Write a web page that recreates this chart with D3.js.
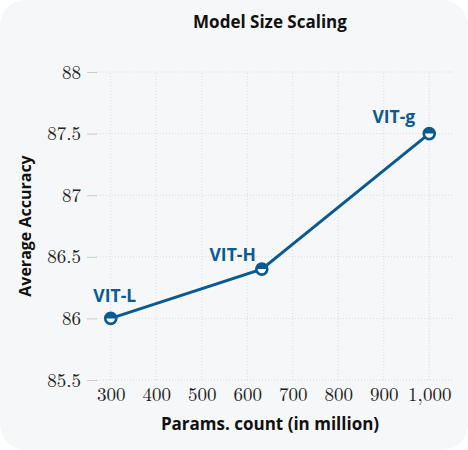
<!DOCTYPE html>
<html>
<head>
<meta charset="utf-8">
<script src="https://cdn.jsdelivr.net/npm/d3@7"></script>
<style>
  body { margin: 0; background: #ffffff; }
</style>
</head>
<body>
<div id="chart"></div>
<script>
const models = ["VIT-L", "VIT-H", "VIT-g"];
const params = [300, 632, 1000];
const accuracy = [86.0, 86.4, 87.5];
const xTicks = [300, 400, 500, 600, 700, 800, 900, 1000];
const yTicks = [85.5, 86, 86.5, 87, 87.5, 88];

const W = 468, H = 450;
const margin = { top: 72, right: 16, bottom: 70, left: 92 };
const blue = "#0b5a91";
const sans = "'Open Sans', sans-serif";
const serif = "'Latin Modern Roman', 'Liberation Serif', serif";

const svg = d3.select("#chart").append("svg")
  .attr("width", W)
  .attr("height", H);

svg.append("rect")
  .attr("x", 0).attr("y", 0)
  .attr("width", W).attr("height", H)
  .attr("rx", 26)
  .attr("fill", "#f6f7f9");

const x = d3.scaleLinear().domain([250, 1050]).range([margin.left - 4, W - margin.right]);
const y = d3.scaleLinear().domain([85.5, 88]).range([H - margin.bottom, margin.top]);

const g = svg.append("g");

// grid
g.selectAll(".vgrid").data(xTicks).enter().append("line")
  .attr("x1", d => x(d)).attr("x2", d => x(d))
  .attr("y1", y(85.5)).attr("y2", y(88))
  .attr("stroke", "#d4d6da").attr("stroke-width", 0.8)
  .attr("stroke-dasharray", "1,2");

g.selectAll(".hgrid").data(yTicks).enter().append("line")
  .attr("x1", margin.left + 5).attr("x2", W - margin.right)
  .attr("y1", d => y(d)).attr("y2", d => y(d))
  .attr("stroke", "#d4d6da").attr("stroke-width", 0.8)
  .attr("stroke-dasharray", "1,2");

// y axis
const yAxis = d3.axisLeft(y).tickValues(yTicks).tickSize(10).tickPadding(6)
  .tickFormat(d => d3.format("")(d));
const yg = g.append("g")
  .attr("transform", "translate(" + (margin.left + 5) + ",0)")
  .call(yAxis);
yg.select(".domain").remove();
yg.selectAll(".tick line").attr("stroke", "#c8cacd").attr("stroke-width", 1);
yg.selectAll(".tick text")
  .attr("font-family", serif)
  .attr("font-size", 19)
  .attr("fill", "#222");

// x axis
const xAxis = d3.axisBottom(x).tickValues(xTicks).tickSize(0).tickPadding(8)
  .tickFormat(d3.format(","));
const xg = g.append("g")
  .attr("transform", "translate(0," + y(85.5) + ")")
  .call(xAxis);
xg.select(".domain").remove();
xg.selectAll(".tick text")
  .attr("font-family", serif)
  .attr("font-size", 19)
  .attr("fill", "#222");

// titles
svg.append("text")
  .attr("x", 270).attr("y", 28)
  .attr("text-anchor", "middle")
  .attr("font-family", sans)
  .attr("font-weight", "bold")
  .attr("font-size", 17)
  .attr("fill", "#111")
  .text("Model Size Scaling");

svg.append("text")
  .attr("x", 270).attr("y", 430)
  .attr("text-anchor", "middle")
  .attr("font-family", sans)
  .attr("font-weight", "bold")
  .attr("font-size", 17)
  .attr("fill", "#111")
  .text("Params. count (in million)");

svg.append("text")
  .attr("transform", "translate(31," + 226 + ") rotate(-90)")
  .attr("text-anchor", "middle")
  .attr("font-family", sans)
  .attr("font-weight", "bold")
  .attr("font-size", 16)
  .attr("fill", "#111")
  .text("Average Accuracy");

const data = models.map((m, i) => ({ name: m, p: params[i], acc: accuracy[i] }));

g.append("path")
  .datum(data)
  .attr("fill", "none")
  .attr("stroke", blue)
  .attr("stroke-width", 3)
  .attr("d", d3.line().x(d => x(d.p)).y(d => y(d.acc)));

// markers: open circle with filled top half
const mk = g.selectAll(".mk").data(data).enter().append("g")
  .attr("transform", d => "translate(" + x(d.p) + "," + y(d.acc) + ")");
mk.append("circle").attr("r", 5.5).attr("fill", "#fff");
mk.append("path")
  .attr("d", "M-5.5,0 A5.5,5.5 0 0 1 5.5,0 Z")
  .attr("fill", blue);
mk.append("circle").attr("r", 5.5)
  .attr("fill", "none").attr("stroke", blue).attr("stroke-width", 2.6);

// labels
const labelPos = [
  { anchor: "middle", dx: 4, dy: -16 },
  { anchor: "end", dx: -6, dy: -8 },
  { anchor: "end", dx: -14, dy: -11 }
];
g.selectAll(".lbl").data(data).enter().append("text")
  .attr("x", (d, i) => x(d.p) + labelPos[i].dx)
  .attr("y", (d, i) => y(d.acc) + labelPos[i].dy)
  .attr("text-anchor", (d, i) => labelPos[i].anchor)
  .attr("font-family", sans)
  .attr("font-weight", "bold")
  .attr("font-size", 17.5)
  .attr("fill", blue)
  .text(d => d.name);
</script>
</body>
</html>
